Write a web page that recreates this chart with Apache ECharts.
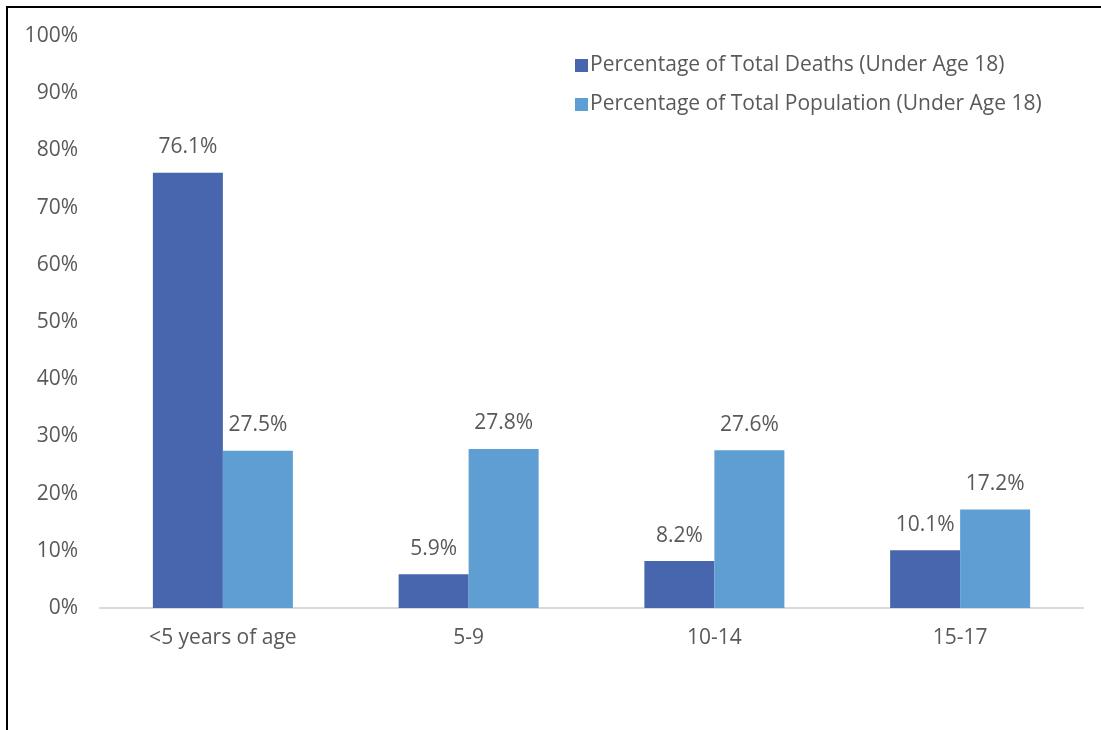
<!DOCTYPE html>
<html><head><meta charset="utf-8">
<script src="https://cdn.jsdelivr.net/npm/echarts@6/dist/echarts.min.js"></script>
<style>html,body{margin:0;padding:0;background:#fff}#c{width:1101px;height:730px}</style>
</head><body><div id="c"></div>
<script>
const categories = ['<5 years of age', '5-9', '10-14', '15-17'];
const deaths = [76.1, 5.9, 8.2, 10.1];
const population = [27.5, 27.8, 27.6, 17.2];
const seriesNames = ['Percentage of Total Deaths (Under Age 18)', 'Percentage of Total Population (Under Age 18)'];

const chart = echarts.init(document.getElementById('c'));
const font = 'Open Sans, Noto Sans, sans-serif';
const lbl = {show: true, position: 'top', distance: 15, color: '#595959', fontSize: 21, fontFamily: font, formatter: p => p.value.toFixed(1) + '%'};
chart.setOption({
  animation: false,
  textStyle: {fontFamily: font},
  graphic: [{type: 'polyline', shape: {points: [[7, 740], [7, 7], [1110, 7]]}, style: {stroke: '#000', lineWidth: 2, fill: null}}],
  legend: {orient: 'vertical', left: 570, top: 50, itemWidth: 13, itemHeight: 13, itemGap: 18, icon: 'rect',
    textStyle: {color: '#595959', fontSize: 21, fontFamily: font, padding: [0, 0, 0, -3]}, data: seriesNames},
  grid: {left: 100, right: 18, top: 36, bottom: 122, containLabel: false},
  xAxis: {type: 'category', data: categories, axisTick: {show: false},
    axisLine: {lineStyle: {color: '#d9d9d9', width: 2}},
    axisLabel: {color: '#595959', fontSize: 21, margin: 20, fontFamily: font}},
  yAxis: {type: 'value', min: 0, max: 100, interval: 10, splitLine: {show: false},
    axisLine: {show: false}, axisTick: {show: false},
    axisLabel: {color: '#595959', fontSize: 21, margin: 22, fontFamily: font, formatter: v => v + '%'}},
  series: [
    {name: seriesNames[0], type: 'bar', data: deaths, barWidth: 70, barGap: '0%', itemStyle: {color: '#4866ae'}, label: lbl},
    {name: seriesNames[1], type: 'bar', data: population, barWidth: 70, itemStyle: {color: '#5f9ed2'}, label: lbl}
  ]
});
</script></body></html>
